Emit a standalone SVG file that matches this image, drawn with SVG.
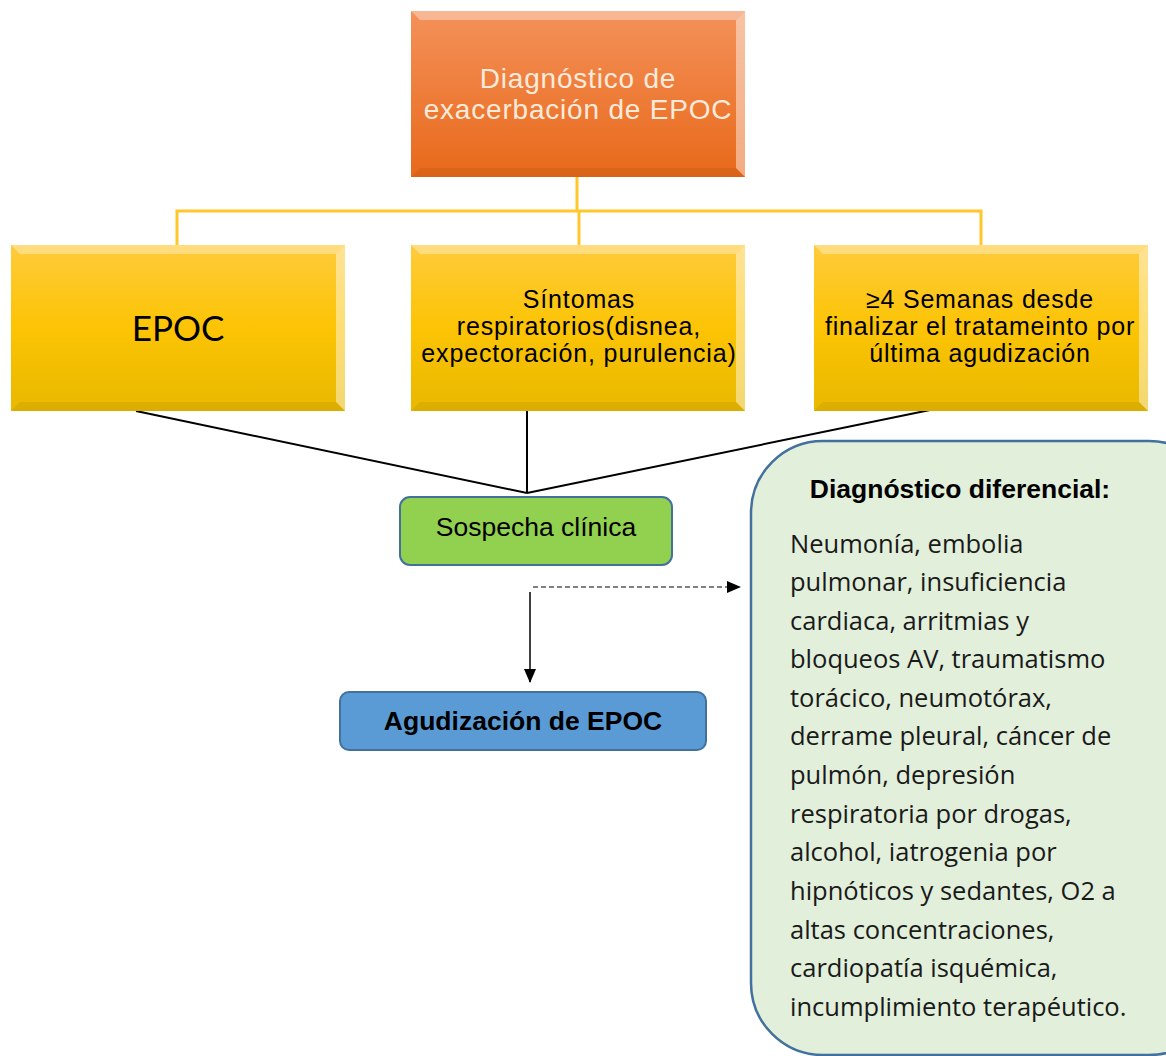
<svg xmlns="http://www.w3.org/2000/svg" width="1166" height="1056" viewBox="0 0 1166 1056">
<defs>
<linearGradient id="gOr" x1="0" y1="0" x2="0" y2="1">
<stop offset="0" stop-color="#F4915A"/><stop offset="1" stop-color="#E8691A"/>
</linearGradient>
<linearGradient id="gYe" x1="0" y1="0" x2="0" y2="1">
<stop offset="0" stop-color="#FFCB3C"/><stop offset="0.5" stop-color="#FCC404"/><stop offset="1" stop-color="#E8B800"/>
</linearGradient>
<marker id="ah2" markerWidth="14" markerHeight="14" refX="13" refY="7" orient="auto" markerUnits="userSpaceOnUse" viewBox="0 0 14 14">
<path d="M0,1 L14,7 L0,13 Z" fill="#000"/>
</marker>
</defs>
<style>
.bevT{fill:#fff;opacity:0.35}
.bevR{fill:#fff;opacity:0.45}
.bevB{fill:#000;opacity:0.06}
.ar{font-family:"Liberation Sans",Arial,sans-serif}
.cal{font-family:Lato,"Open Sans",sans-serif}
.os{font-family:"Open Sans",Lato,sans-serif}
.yl{fill:none;stroke:#FFC72C;stroke-width:3}
.bl{fill:none;stroke:#000;stroke-width:2}
</style>
<rect width="1166" height="1056" fill="#fff"/>

<g id="connectors">
<path class="yl" d="M577,177 V211 M177,245 V211 H981 V245 M579,211 V245"/>
<path class="bl" d="M136,411 L527,493 M527,411 V493 M930,410 L527,493"/>
<path d="M533,587 H740" fill="none" stroke="#000" stroke-width="1.2" stroke-dasharray="5,3" marker-end="url(#ah2)"/>
<path d="M530,592 V682" fill="none" stroke="#000" stroke-width="1.5" marker-end="url(#ah2)"/>
</g>

<g id="n-top">
<rect x="411" y="11" width="334" height="166" fill="url(#gOr)"/>
<polygon class="bevT" points="411,11 745,11 736,20 420,20"/>
<polygon class="bevR" points="745,11 745,177 736,168 736,20"/>
<polygon class="bevB" points="411,177 745,177 736,168 420,168"/>
<g class="ar" font-size="28" letter-spacing="0.8" fill="#FCEBDC" text-anchor="middle">
<text x="578" y="88">Diagnóstico de</text>
<text x="578" y="119">exacerbación de EPOC</text>
</g>
</g>

<g id="n-epoc">
<rect x="11" y="245" width="334" height="166" fill="url(#gYe)"/>
<polygon class="bevT" points="11,245 345,245 336,254 20,254"/>
<polygon class="bevR" points="345,245 345,411 336,402 336,254"/>
<polygon class="bevB" points="11,411 345,411 336,402 20,402"/>
<text class="cal" x="178" y="341" font-size="35" fill="#000" text-anchor="middle">EPOC</text>
</g>

<g id="n-sintomas">
<rect x="411" y="245" width="334" height="166" fill="url(#gYe)"/>
<polygon class="bevT" points="411,245 745,245 736,254 420,254"/>
<polygon class="bevR" points="745,245 745,411 736,402 736,254"/>
<polygon class="bevB" points="411,411 745,411 736,402 420,402"/>
<g class="ar" font-size="25" letter-spacing="0.85" fill="#000" text-anchor="middle">
<text x="579" y="308">Síntomas</text>
<text x="579" y="335">respiratorios(disnea,</text>
<text x="579" y="362">expectoración, purulencia)</text>
</g>
</g>

<g id="n-semanas">
<rect x="814" y="245" width="334" height="166" fill="url(#gYe)"/>
<polygon class="bevT" points="814,245 1148,245 1139,254 823,254"/>
<polygon class="bevR" points="1148,245 1148,411 1139,402 1139,254"/>
<polygon class="bevB" points="814,411 1148,411 1139,402 823,402"/>
<g class="ar" font-size="25" letter-spacing="0.8" fill="#000" text-anchor="middle">
<text x="980" y="308">≥4 Semanas desde</text>
<text x="980" y="335">finalizar el tratameinto por</text>
<text x="980" y="362">última agudización</text>
</g>
</g>

<g id="n-sospecha">
<rect x="400" y="497" width="272" height="68" rx="10" fill="#92D050" stroke="#41719C" stroke-width="2"/>
<text class="ar" x="536" y="536" font-size="26.5" fill="#000" text-anchor="middle">Sospecha clínica</text>
</g>

<g id="n-agudizacion">
<rect x="340" y="692" width="366" height="58" rx="9" fill="#5B9BD5" stroke="#41719C" stroke-width="2"/>
<text class="ar" x="523" y="730" font-size="26.5" font-weight="bold" fill="#000" text-anchor="middle">Agudización de EPOC</text>
</g>

<g id="n-diferencial">
<rect x="751" y="441" width="470" height="614" rx="72" fill="#E2EFDA" stroke="#41719C" stroke-width="2.5"/>
<text class="ar" x="960" y="498" font-size="26.5" font-weight="bold" fill="#000" text-anchor="middle">Diagnóstico diferencial:</text>
<g class="os" font-size="25.5" fill="#1a1a1a">
<text x="790" y="553">Neumonía, embolia</text>
<text x="790" y="591">pulmonar, insuficiencia</text>
<text x="790" y="630">cardiaca, arritmias y</text>
<text x="790" y="668">bloqueos AV, traumatismo</text>
<text x="790" y="707">torácico, neumotórax,</text>
<text x="790" y="745">derrame pleural, cáncer de</text>
<text x="790" y="784">pulmón, depresión</text>
<text x="790" y="823">respiratoria por drogas,</text>
<text x="790" y="861">alcohol, iatrogenia por</text>
<text x="790" y="900">hipnóticos y sedantes, O2 a</text>
<text x="790" y="939">altas concentraciones,</text>
<text x="790" y="977">cardiopatía isquémica,</text>
<text x="790" y="1016">incumplimiento terapéutico.</text>
</g>
</g>
</svg>
